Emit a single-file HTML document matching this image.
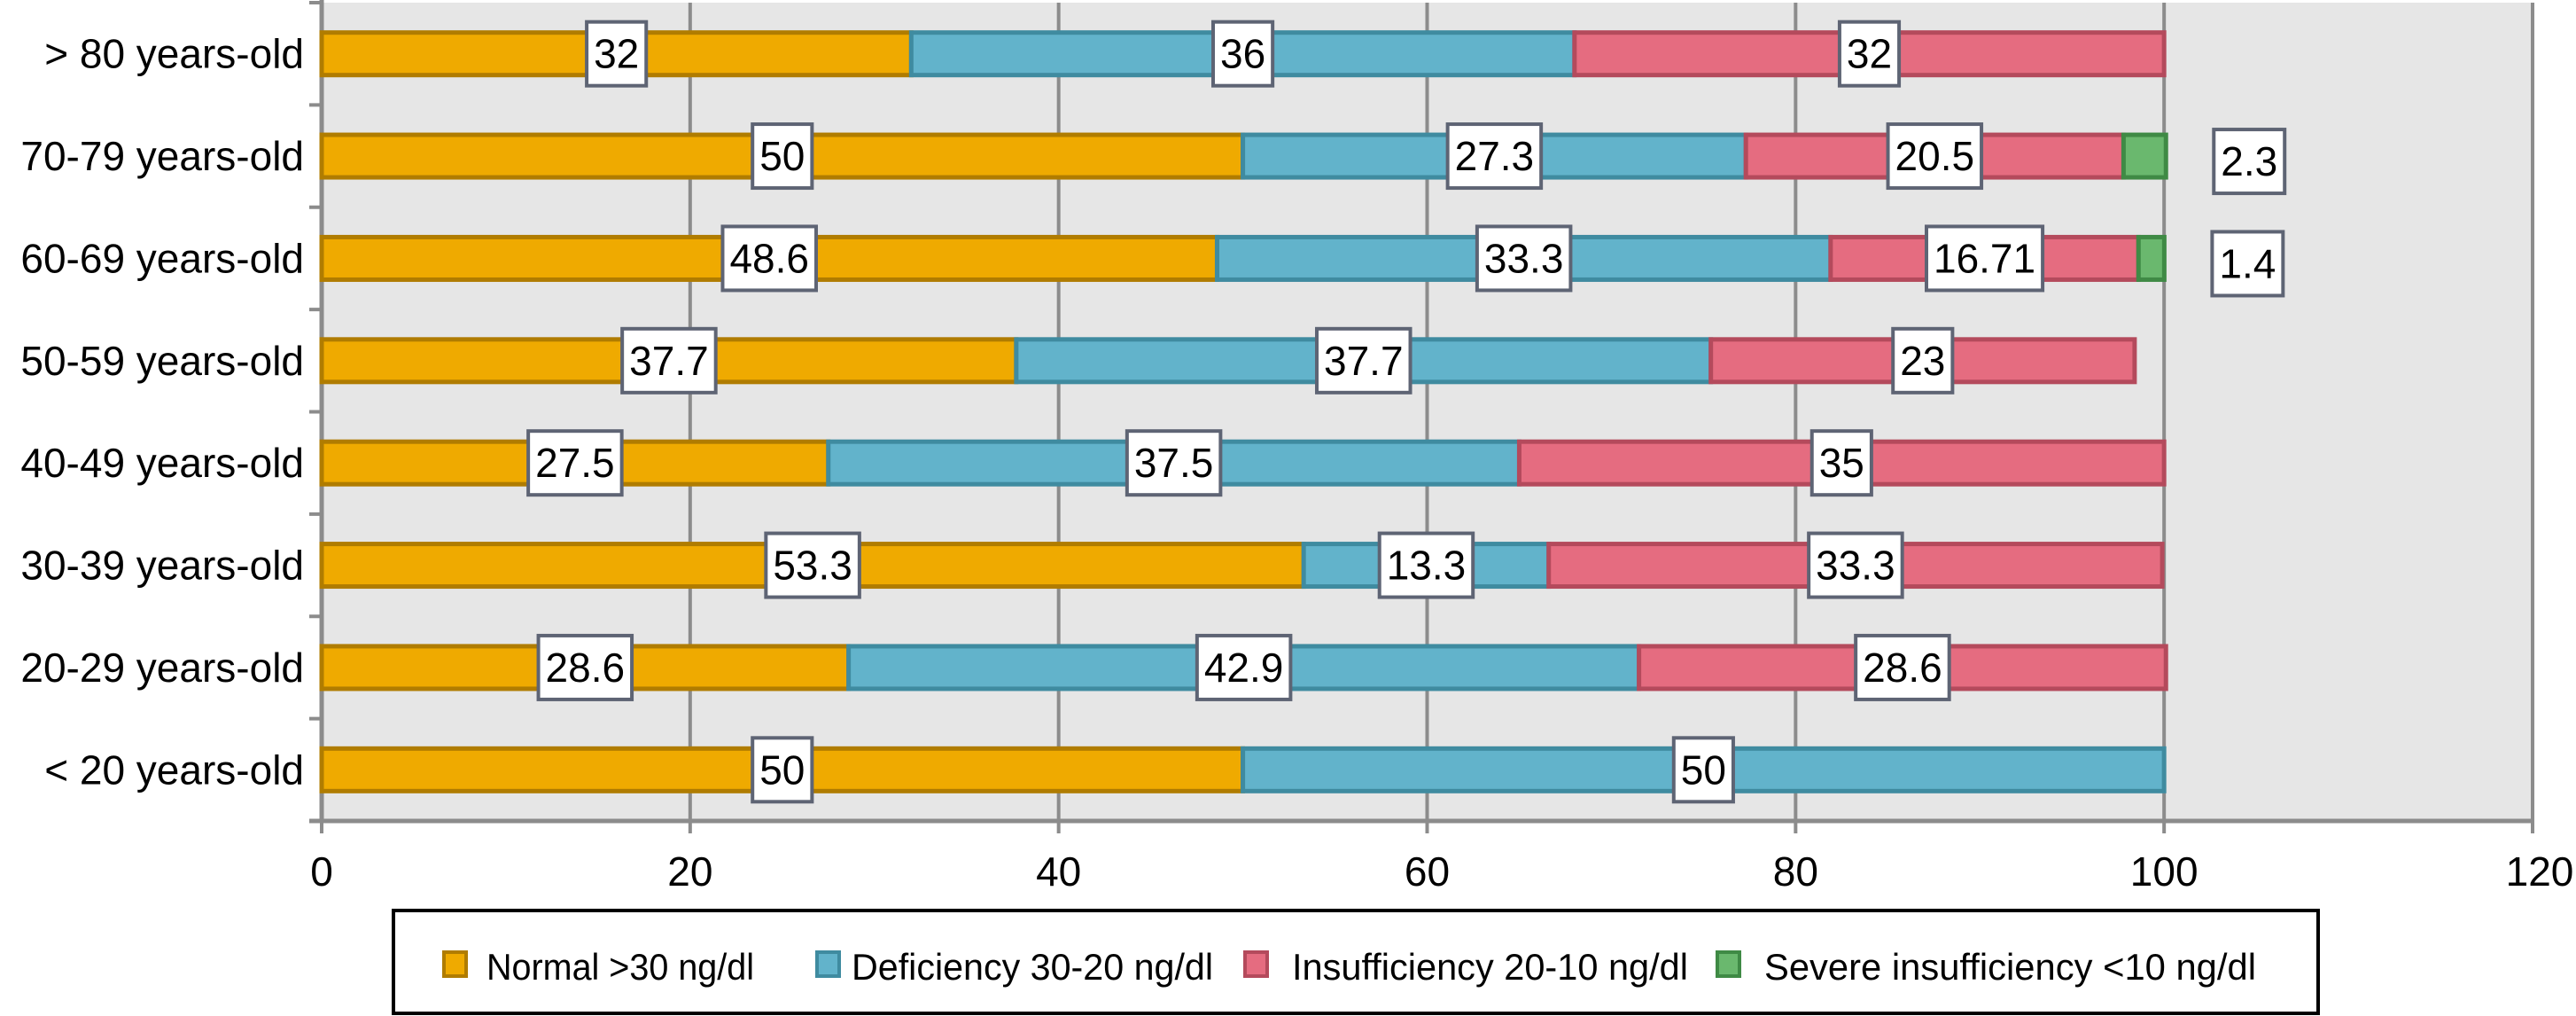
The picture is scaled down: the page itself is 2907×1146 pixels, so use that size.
<!DOCTYPE html>
<html><head><meta charset="utf-8"><style>
html,body{margin:0;padding:0;background:#fff;}
svg{display:block;font-family:"Liberation Sans",Arial,sans-serif;}
</style></head><body>
<svg id="chart" width="2907" height="1146" viewBox="0 0 2907 1146"></svg>
<script>
const categories = ["> 80 years-old","70-79 years-old","60-69 years-old","50-59 years-old","40-49 years-old","30-39 years-old","20-29 years-old","< 20 years-old"];
const normalVals = [32,50,48.6,37.7,27.5,53.3,28.6,50];
const deficiencyVals = [36,27.3,33.3,37.7,37.5,13.3,42.9,50];
const insufficiencyVals = [32,20.5,16.71,23,35,33.3,28.6,0];
const severeVals = [0,2.3,1.4,0,0,0,0,0];
const seriesNames = ["Normal >30 ng/dl","Deficiency 30-20 ng/dl","Insufficiency 20-10 ng/dl","Severe insufficiency <10 ng/dl"];
const xTicks = [0,20,40,60,80,100,120];

const NS="http://www.w3.org/2000/svg";
const svg=document.getElementById('chart');
const L=363,R=2858,T=3,B=926,XMAX=120;
const x=v=>L+(R-L)*v/XMAX;
const band=(B-T)/categories.length;
const yc=i=>T+band*(i+0.5);
const barH=48;
const fills=["#EFAA00","#62B3CB","#E56C80","#6AB86E"];
const strokes=["#B07C00","#3F8BA0","#B44A5C","#3F8A45"];
const series=[normalVals,deficiencyVals,insufficiencyVals,severeVals];
function mk(tag,attrs,parent){const e=document.createElementNS(NS,tag);for(const k in attrs)e.setAttribute(k,attrs[k]);(parent||svg).appendChild(e);return e;}

const bg=mk('rect',{x:L,y:T,width:R-L,height:B-T,fill:"#E6E6E6"});


xTicks.forEach(t=>{
  if(t>0){const g=mk('line',{x1:x(t),x2:x(t),y1:T,y2:B,stroke:"#8C8C8C","stroke-width":4});
  
  }
  const tk=mk('line',{x1:x(t),x2:x(t),y1:B,y2:B+14,stroke:"#8C8C8C","stroke-width":4});
  
  
  const tl=mk('text',{x:x(t)+(t===120?8:0),y:B+73,"text-anchor":"middle","font-size":46,fill:"#000"});
  tl.textContent=t;
  
  
});
const xa=mk('line',{x1:L-14,x2:R+2,y1:B,y2:B,stroke:"#8C8C8C","stroke-width":5});


const ya=mk('line',{x1:L,x2:L,y1:0,y2:B+2,stroke:"#8C8C8C","stroke-width":5});


for(let i=0;i<=categories.length;i++){
  const t=mk('line',{x1:L-14,x2:L,y1:T+band*i,y2:T+band*i,stroke:"#8C8C8C","stroke-width":4});
  
  
}
categories.forEach((c,i)=>{
  const t=mk('text',{x:343,y:yc(i)+16,"text-anchor":"end","font-size":46,fill:"#000"});
  t.textContent=c;
  
  
});
// bars
const labels=[];
categories.forEach((c,i)=>{
  let acc=0;
  series.forEach((s,k)=>{
    const v=s[i]; if(!v) return;
    const r=mk('rect',{x:x(acc),y:yc(i)-barH/2,width:x(acc+v)-x(acc),height:barH,fill:fills[k],stroke:strokes[k],"stroke-width":5});
    
    
    const outside=(k===3);
    labels.push({v:v,cx:outside?x(acc+v)+94:x(acc+v/2),cy:yc(i)+(outside?6:0)});
    acc+=v;
  });
});
labels.forEach(l=>{
  const s=String(l.v);
  let w=0;for(const ch of s)w+=(ch==='.'?0.278:0.556)*46;
  const bw=w+16,bh=72;
  const r=mk('rect',{x:l.cx-bw/2,y:l.cy-bh/2,width:bw,height:bh,fill:"#fff",stroke:"#5E6474","stroke-width":4});
  
  
  const t=mk('text',{x:l.cx,y:l.cy+16,"text-anchor":"middle","font-size":46,fill:"#000"});
  t.textContent=s;
  
  
});
// legend
const lg=mk('rect',{x:444,y:1027,width:2172,height:116,fill:"#fff",stroke:"#000","stroke-width":4});


const legX=[[501,549,302],[922,961,408],[1405,1458,447],[1938,1991,555]];
seriesNames.forEach((n,k)=>{
  const sw=mk('rect',{x:legX[k][0],y:1074,width:25,height:27,fill:fills[k],stroke:strokes[k],"stroke-width":4});
  
  
  const t=mk('text',{x:legX[k][1],y:1105,"font-size":42,fill:"#000",textLength:legX[k][2],lengthAdjust:"spacingAndGlyphs"});
  t.textContent=n;
  
  
});
</script>
</body></html>
